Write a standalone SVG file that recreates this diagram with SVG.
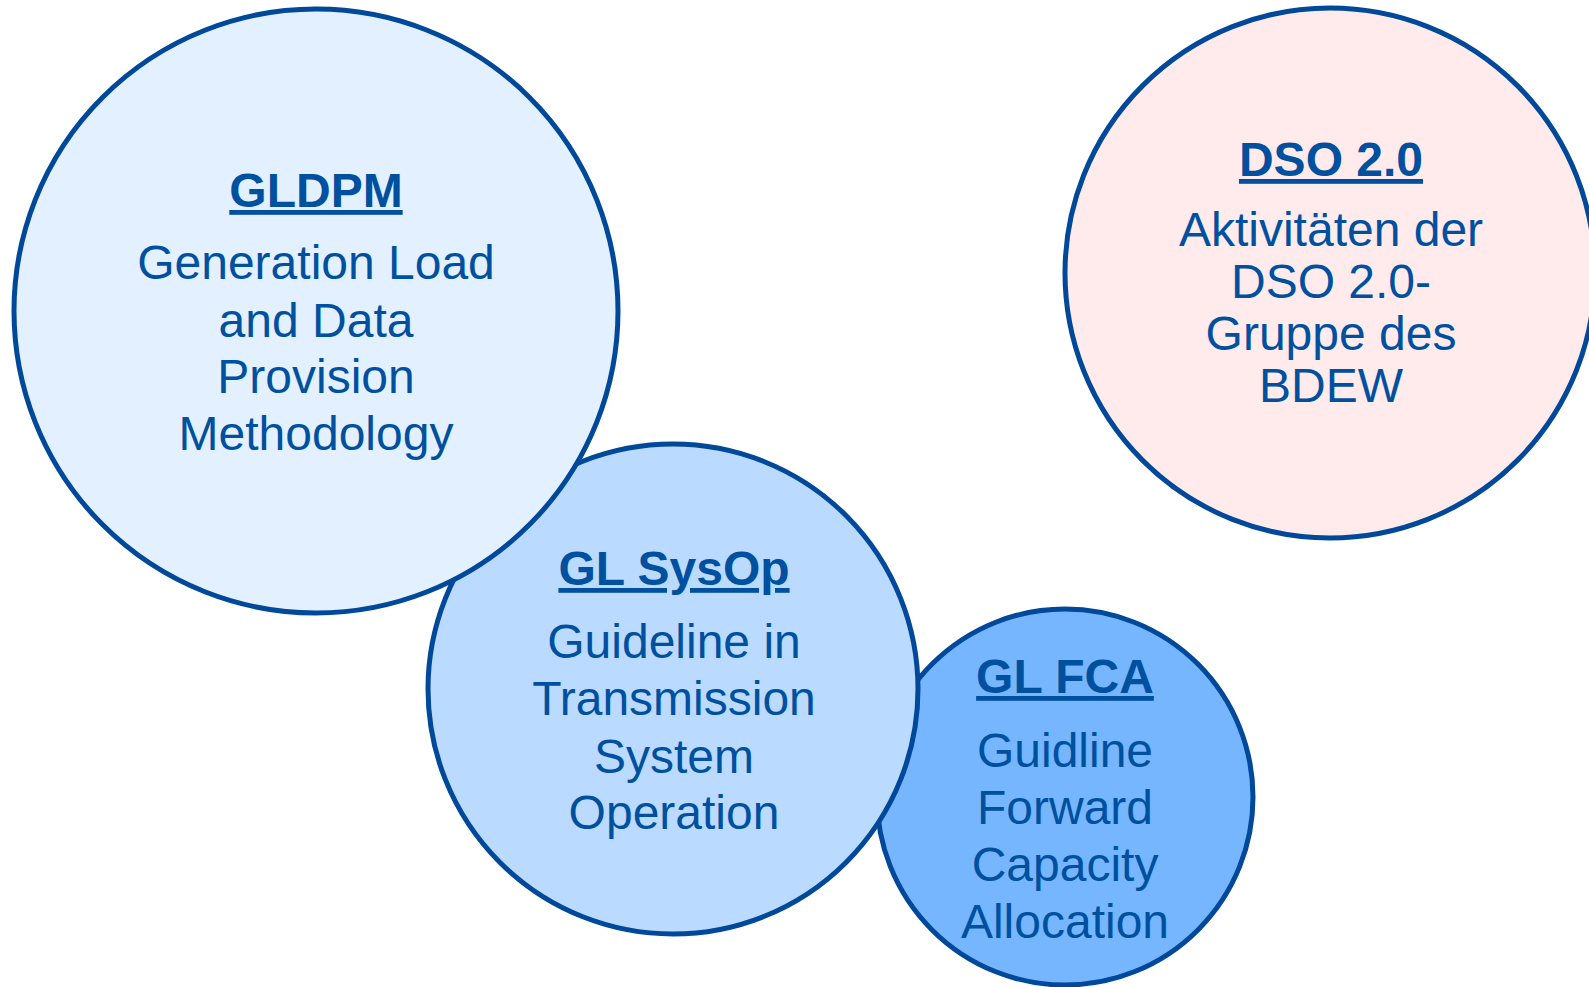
<svg xmlns="http://www.w3.org/2000/svg" width="1589" height="987" viewBox="0 0 1589 987">
<style>
.c{stroke:#00489A;stroke-width:5}
.t{font-family:"Liberation Sans",Arial,sans-serif;fill:#0050A0;text-anchor:middle;font-size:48px}
.h{font-weight:bold;text-decoration:underline}
</style>
<rect width="1589" height="987" fill="#FFFFFF"/>
<g id="connectors"></g>
<g id="gl-fca">
<circle class="c" cx="1065" cy="797" r="188" fill="#75B6FF"/>
<text class="t h" x="1065" y="693">GL FCA</text>
<text class="t" x="1065" y="767">Guidline</text>
<text class="t" x="1065" y="824">Forward</text>
<text class="t" x="1065" y="881">Capacity</text>
<text class="t" x="1065" y="938">Allocation</text>
</g>
<g id="gl-sysop">
<circle class="c" cx="673" cy="689" r="245" fill="#BBDAFF"/>
<text class="t h" x="674" y="585">GL SysOp</text>
<text class="t" x="674" y="658">Guideline in</text>
<text class="t" x="674" y="715">Transmission</text>
<text class="t" x="674" y="773">System</text>
<text class="t" x="674" y="829">Operation</text>
</g>
<g id="gldpm">
<circle class="c" cx="316" cy="311" r="302" fill="#E3F0FF"/>
<text class="t h" x="316" y="207">GLDPM</text>
<text class="t" x="316" y="279">Generation Load</text>
<text class="t" x="316" y="337">and Data</text>
<text class="t" x="316" y="393">Provision</text>
<text class="t" x="316" y="450">Methodology</text>
</g>
<g id="dso">
<circle class="c" cx="1330" cy="273" r="265" fill="#FFEAEC"/>
<text class="t h" x="1331" y="176">DSO 2.0</text>
<text class="t" x="1331" y="246">Aktivitäten der</text>
<text class="t" x="1331" y="298">DSO 2.0-</text>
<text class="t" x="1331" y="350">Gruppe des</text>
<text class="t" x="1331" y="402">BDEW</text>
</g>
</svg>
